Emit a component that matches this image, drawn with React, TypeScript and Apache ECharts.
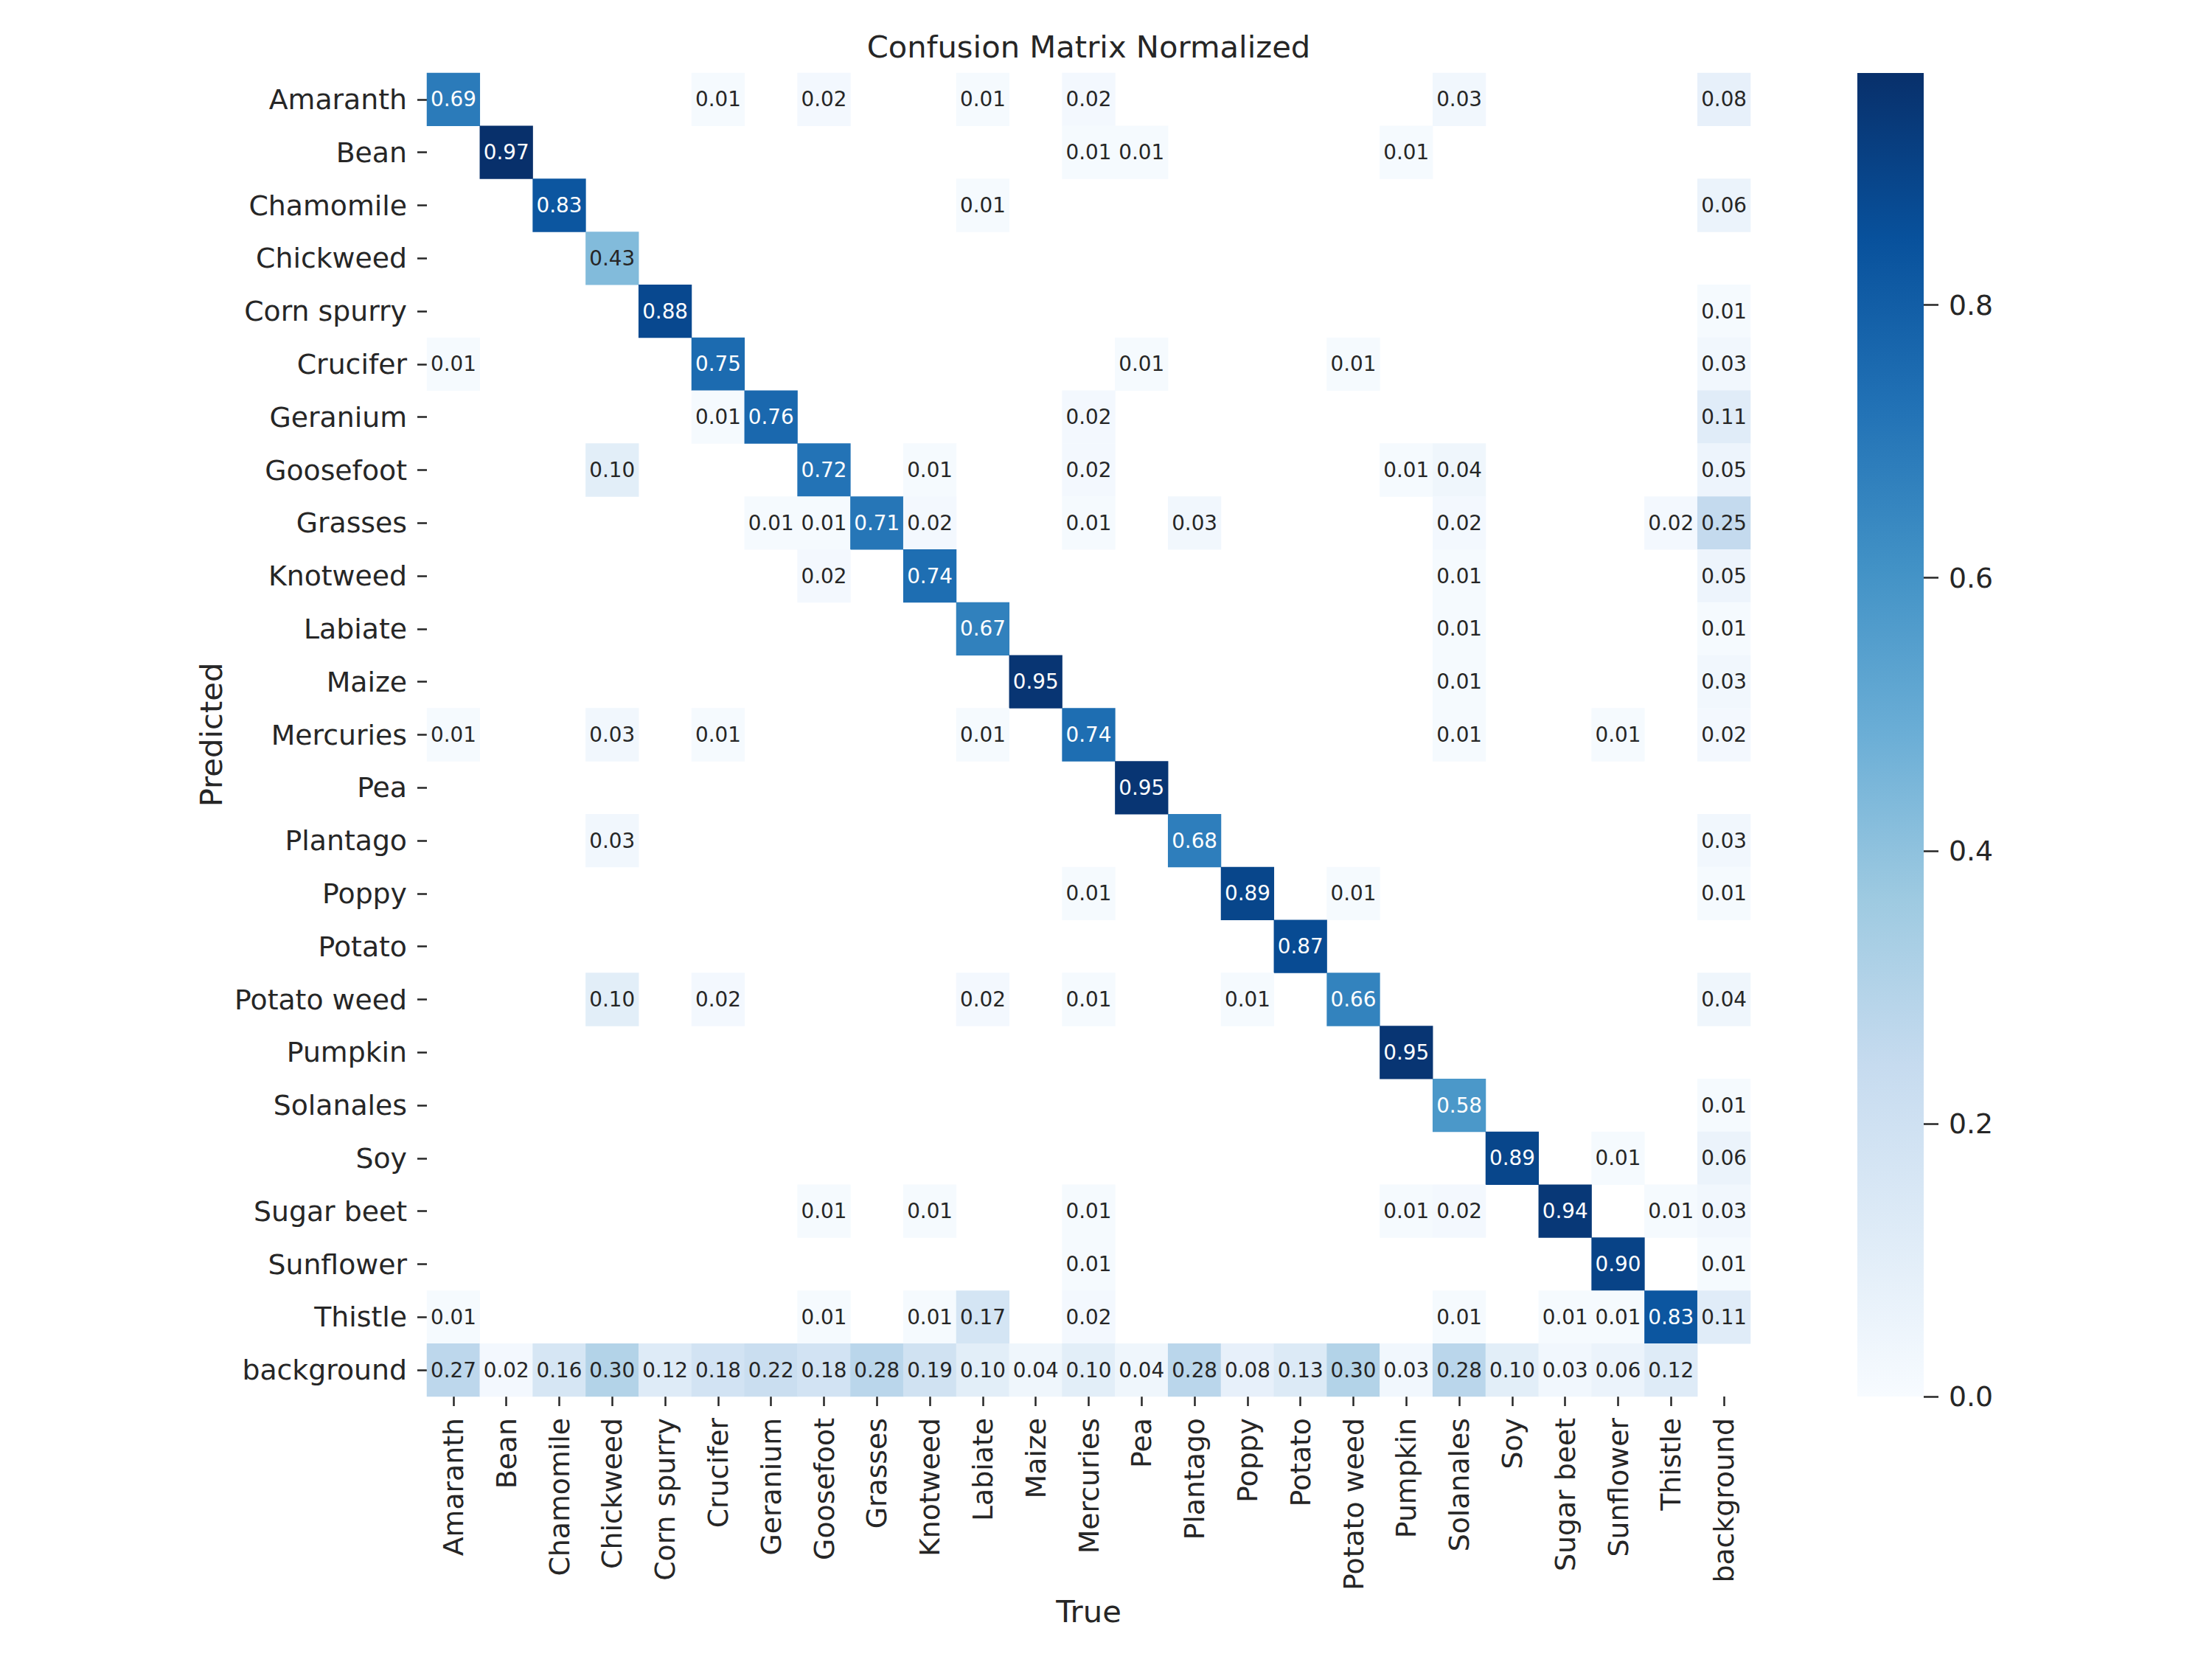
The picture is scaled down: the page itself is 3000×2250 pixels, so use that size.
import React, { useEffect, useRef } from "react";
import * as echarts from "echarts";

// Class names (same order for Predicted rows and True columns)
const classNames: string[] = [
  "Amaranth", "Bean", "Chamomile", "Chickweed", "Corn spurry", "Crucifer",
  "Geranium", "Goosefoot", "Grasses", "Knotweed", "Labiate", "Maize",
  "Mercuries", "Pea", "Plantago", "Poppy", "Potato", "Potato weed",
  "Pumpkin", "Solanales", "Soy", "Sugar beet", "Sunflower", "Thistle",
  "background",
];

// Non-empty cells per predicted row: [trueColumnIndex, normalized value]
const predictedRows: [number, number][][] = [
  [[0, 0.69], [5, 0.01], [7, 0.02], [10, 0.01], [12, 0.02], [19, 0.03], [24, 0.08]], // Amaranth
  [[1, 0.97], [12, 0.01], [13, 0.01], [18, 0.01]], // Bean
  [[2, 0.83], [10, 0.01], [24, 0.06]], // Chamomile
  [[3, 0.43]], // Chickweed
  [[4, 0.88], [24, 0.01]], // Corn spurry
  [[0, 0.01], [5, 0.75], [13, 0.01], [17, 0.01], [24, 0.03]], // Crucifer
  [[5, 0.01], [6, 0.76], [12, 0.02], [24, 0.11]], // Geranium
  [[3, 0.10], [7, 0.72], [9, 0.01], [12, 0.02], [18, 0.01], [19, 0.04], [24, 0.05]], // Goosefoot
  [[6, 0.01], [7, 0.01], [8, 0.71], [9, 0.02], [12, 0.01], [14, 0.03], [19, 0.02], [23, 0.02], [24, 0.25]], // Grasses
  [[7, 0.02], [9, 0.74], [19, 0.01], [24, 0.05]], // Knotweed
  [[10, 0.67], [19, 0.01], [24, 0.01]], // Labiate
  [[11, 0.95], [19, 0.01], [24, 0.03]], // Maize
  [[0, 0.01], [3, 0.03], [5, 0.01], [10, 0.01], [12, 0.74], [19, 0.01], [22, 0.01], [24, 0.02]], // Mercuries
  [[13, 0.95]], // Pea
  [[3, 0.03], [14, 0.68], [24, 0.03]], // Plantago
  [[12, 0.01], [15, 0.89], [17, 0.01], [24, 0.01]], // Poppy
  [[16, 0.87]], // Potato
  [[3, 0.10], [5, 0.02], [10, 0.02], [12, 0.01], [15, 0.01], [17, 0.66], [24, 0.04]], // Potato weed
  [[18, 0.95]], // Pumpkin
  [[19, 0.58], [24, 0.01]], // Solanales
  [[20, 0.89], [22, 0.01], [24, 0.06]], // Soy
  [[7, 0.01], [9, 0.01], [12, 0.01], [18, 0.01], [19, 0.02], [21, 0.94], [23, 0.01], [24, 0.03]], // Sugar beet
  [[12, 0.01], [22, 0.90], [24, 0.01]], // Sunflower
  [[0, 0.01], [7, 0.01], [9, 0.01], [10, 0.17], [12, 0.02], [19, 0.01], [21, 0.01], [22, 0.01], [23, 0.83], [24, 0.11]], // Thistle
];

// Background row (predicted = background), one value per true class except background
const backgroundRow: number[] = [
  0.27, 0.02, 0.16, 0.30, 0.12, 0.18, 0.22, 0.18, 0.28, 0.19, 0.10, 0.04,
  0.10, 0.04, 0.28, 0.08, 0.13, 0.30, 0.03, 0.28, 0.10, 0.03, 0.06, 0.12,
];

const colorbarTicks: number[] = [0, 0.2, 0.4, 0.6, 0.8];

// matplotlib "Blues"
const blues: string[] = [
  "#f7fbff", "#deebf7", "#c6dbef", "#9ecae1", "#6baed6",
  "#4292c6", "#2171b5", "#08519c", "#08306b",
];

const FONT = "DejaVu Sans";
const TEXT = "#262626";

function hexToRgb(h: string): number[] {
  return [1, 3, 5].map((i) => parseInt(h.slice(i, i + 2), 16) / 255);
}

function bluesAt(t: number): number[] {
  const tt = Math.max(0, Math.min(1, t)) * (blues.length - 1);
  const i = Math.min(Math.floor(tt), blues.length - 2);
  const f = tt - i;
  const a = hexToRgb(blues[i]);
  const b = hexToRgb(blues[i + 1]);
  return a.map((v, k) => v + (b[k] - v) * f);
}

function luminance(rgb: number[]): number {
  const lin = rgb.map((c) => (c <= 0.03928 ? c / 12.92 : Math.pow((c + 0.055) / 1.055, 2.4)));
  return 0.2126 * lin[0] + 0.7152 * lin[1] + 0.0722 * lin[2];
}

export default function App() {
  const ref = useRef<HTMLDivElement>(null);

  useEffect(() => {
    if (!ref.current) return;
    const chart = echarts.init(ref.current, undefined, { renderer: "svg" });

    const cells: [number, number, number][] = [];
    predictedRows.forEach((row, r) => {
      row.forEach(([c, v]) => cells.push([c, r, v]));
    });
    const bgIndex = classNames.length - 1;
    backgroundRow.forEach((v, c) => cells.push([c, bgIndex, v]));

    const vmax = Math.max(...cells.map((d) => d[2]));
    const vmin = 0;

    const data = cells.map(([c, r, v]) => {
      const lum = luminance(bluesAt((v - vmin) / (vmax - vmin)));
      return {
        value: [c, r, v],
        label: { color: lum > 0.408 ? TEXT : "#ffffff" },
      };
    });

    const gridLeft = 579;
    const gridTop = 99;
    const gridSize = 1795;
    const cbLeft = 2519;
    const cbWidth = 90;

    const option: any = {
      animation: false,
      backgroundColor: "#ffffff",
      grid: [
        { left: gridLeft, top: gridTop, width: gridSize, height: gridSize },
        { left: cbLeft, top: gridTop, width: cbWidth, height: gridSize },
      ],
      xAxis: [
        {
          gridIndex: 0,
          type: "category",
          data: classNames,
          position: "bottom",
          axisLine: { show: false },
          axisTick: {
            show: true,
            alignWithLabel: true,
            interval: 0,
            length: 13,
            lineStyle: { color: TEXT, width: 2.5 },
          },
          axisLabel: {
            interval: 0,
            rotate: 90,
            margin: 29,
            fontSize: 37.8,
            fontFamily: FONT,
            color: TEXT,
          },
          splitLine: { show: false },
        },
        {
          gridIndex: 1,
          type: "category",
          data: [""],
          show: false,
        },
      ],
      yAxis: [
        {
          gridIndex: 0,
          type: "category",
          data: classNames,
          inverse: true,
          axisLine: { show: false },
          axisTick: {
            show: true,
            alignWithLabel: true,
            interval: 0,
            length: 13,
            lineStyle: { color: TEXT, width: 2.5 },
          },
          axisLabel: {
            interval: 0,
            margin: 27,
            fontSize: 37.8,
            fontFamily: FONT,
            color: TEXT,
          },
          splitLine: { show: false },
        },
        {
          gridIndex: 1,
          type: "value",
          position: "right",
          min: vmin,
          max: vmax,
          axisLine: { show: false },
          splitLine: { show: false },
          axisTick: {
            show: true,
            length: 20,
            customValues: colorbarTicks,
            lineStyle: { color: TEXT, width: 2.5 },
          },
          axisLabel: {
            customValues: colorbarTicks,
            margin: 34,
            fontSize: 37.8,
            fontFamily: FONT,
            color: TEXT,
            formatter: (v: number) => v.toFixed(1),
          },
        },
      ],
      visualMap: {
        show: false,
        type: "continuous",
        min: vmin,
        max: vmax,
        dimension: 2,
        seriesIndex: 0,
        inRange: { color: blues },
      },
      series: [
        {
          type: "heatmap",
          xAxisIndex: 0,
          yAxisIndex: 0,
          data,
          itemStyle: { borderWidth: 0 },
          emphasis: { disabled: true },
          label: {
            show: true,
            fontSize: 27.8,
            fontFamily: FONT,
            formatter: (p: any) => p.value[2].toFixed(2),
          },
        },
      ],
      graphic: [
        {
          type: "rect",
          silent: true,
          shape: { x: cbLeft, y: gridTop, width: cbWidth, height: gridSize },
          style: {
            fill: {
              type: "linear",
              x: 0, y: 1, x2: 0, y2: 0,
              colorStops: blues.map((c, i) => ({ offset: i / (blues.length - 1), color: c })),
            },
          },
          z: -1,
        },
        {
          type: "text",
          x: gridLeft + gridSize / 2,
          y: 63,
          style: {
            text: "Confusion Matrix Normalized",
            align: "center",
            verticalAlign: "middle",
            fontSize: 41.7,
            fontFamily: FONT,
            fill: TEXT,
          },
        },
        {
          type: "text",
          x: gridLeft + gridSize / 2,
          y: 2185,
          style: {
            text: "True",
            align: "center",
            verticalAlign: "middle",
            fontSize: 41.7,
            fontFamily: FONT,
            fill: TEXT,
          },
        },
        {
          type: "text",
          x: 286,
          y: gridTop + gridSize / 2,
          rotation: Math.PI / 2,
          style: {
            text: "Predicted",
            align: "center",
            verticalAlign: "middle",
            fontSize: 41.7,
            fontFamily: FONT,
            fill: TEXT,
          },
        },
      ],
    };

    chart.setOption(option);
    return () => chart.dispose();
  }, []);

  return (
    <div
      ref={ref}
      style={{ position: "absolute", left: 0, top: 0, width: 3000, height: 2250 }}
    />
  );
}
